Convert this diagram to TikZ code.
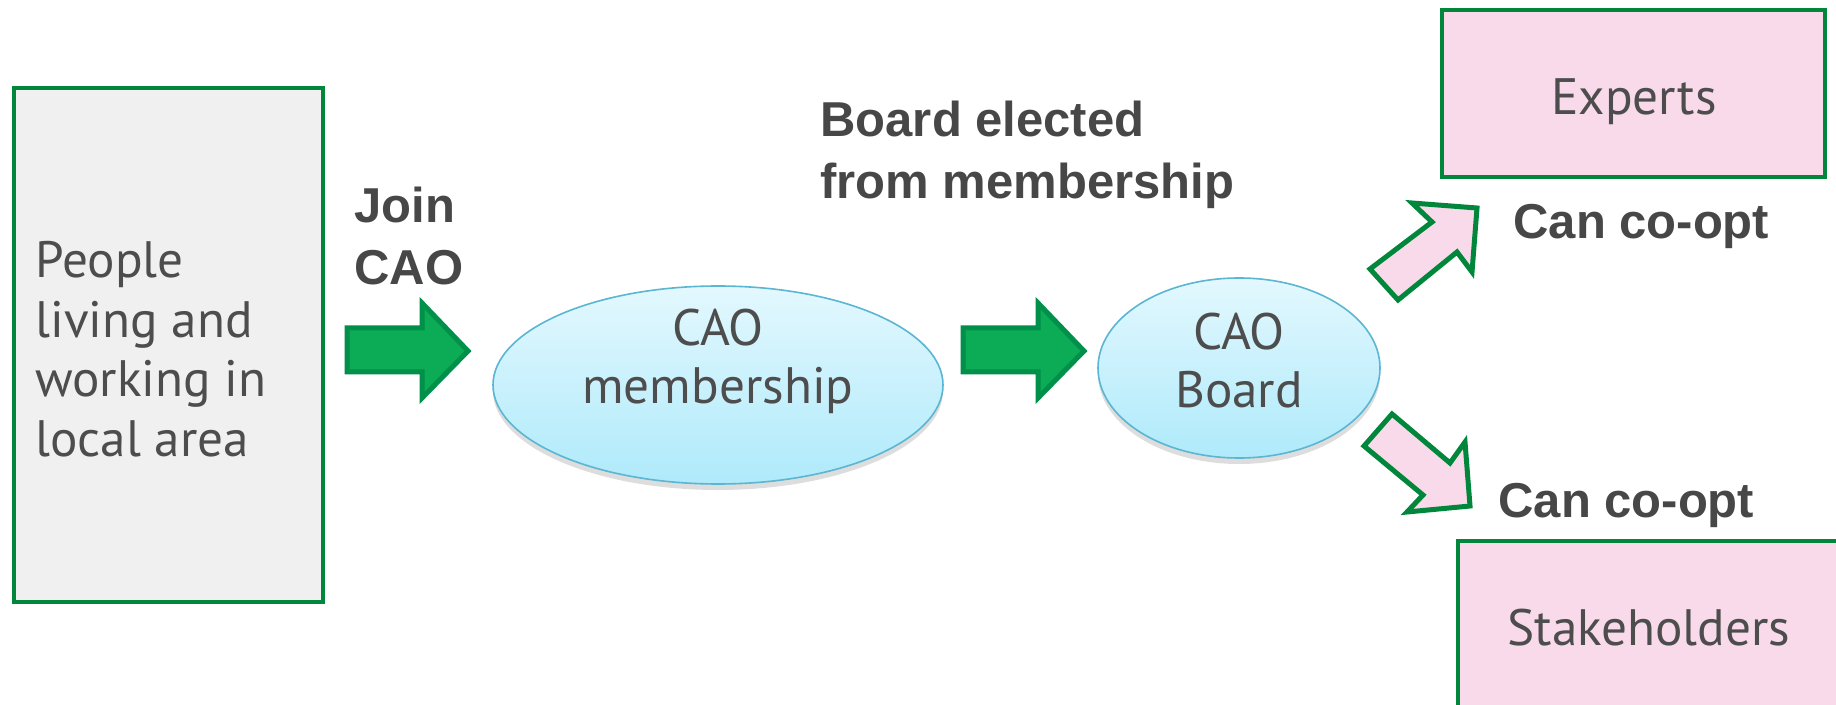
\documentclass[tikz,border=0pt]{standalone}
\usepackage{fontspec}
\setmainfont{PT Sans}
\newfontfamily\arialf{Liberation Sans}
\usetikzlibrary{shapes.geometric}
\definecolor{bordergreen}{HTML}{00873C}
\definecolor{arrowgreen}{HTML}{0BAC55}
\definecolor{arrowedge}{HTML}{00904A}
\definecolor{pinkfill}{HTML}{F8DAEA}
\definecolor{greyfill}{HTML}{F0F0F0}
\definecolor{txtgrey}{HTML}{4D4D4D}
\definecolor{boldgrey}{HTML}{474747}
\definecolor{elltop}{HTML}{E3F8FE}
\definecolor{ellbot}{HTML}{AFEAFB}
\definecolor{elledge}{HTML}{5AB6D2}
\tikzset{
  box/.style={draw=bordergreen, line width=2.4pt},
  regtext/.style={text=txtgrey, inner sep=0pt, font=\fontsize{25.6}{29.75}\selectfont},
  boldtext/.style={text=boldgrey, inner sep=0pt, align=left, font=\arialf\bfseries\fontsize{24.5}{31}\selectfont},
  bubble/.style={ellipse, draw=elledge, line width=0.8pt, top color=elltop, bottom color=ellbot},
  bubbleshadow/.style={fill=black!22, draw=none},
  greenarrow/.style={fill=arrowgreen, draw=arrowedge, line width=2.5pt, line join=miter},
  pinkarrow/.style={fill=pinkfill, draw=bordergreen, line width=2.5pt, line join=miter}
}
\begin{document}
\begin{tikzpicture}[x=0.5pt,y=-0.5pt]
\useasboundingbox (0,0) rectangle (1836,705);
\clip (0,0) rectangle (1836,705);
\fill[white] (0,0) rectangle (1836,705);

% left box
\draw[box, fill=greyfill] (14,88) rectangle (323,602);
\node[regtext, align=left, anchor=west] (people) at (35,349) {People\\living and\\working in\\local area};

% Join CAO
\node[boldtext, anchor=west] (join) at (354,236) {Join\\CAO};
\draw[greenarrow] (347,328) -- (422,328) -- (422,303) -- (468,351) -- (422,398) -- (422,372) -- (347,372) -- cycle;

% membership ellipse
\fill[bubbleshadow, opacity=0.6] (718,391) ellipse [x radius=225, y radius=99];
\node[bubble, minimum width=225pt, minimum height=99pt, inner sep=0pt] (memb) at (718,385) {};
\node[regtext, align=center, font=\fontsize{25.6}{29}\selectfont] (membtxt) at (718,361) {CAO\\membership};

% Board elected
\node[boldtext, anchor=west] (elected) at (820,155) {Board elected\\from membership};

% arrow 2
\draw[greenarrow] (963,328) -- (1038,328) -- (1038,303) -- (1084,351) -- (1038,398) -- (1038,372) -- (963,372) -- cycle;

% board ellipse
\fill[bubbleshadow, opacity=0.6] (1239,374) ellipse [x radius=141, y radius=90];
\node[bubble, minimum width=141pt, minimum height=90pt, inner sep=0pt] (board) at (1239,368) {};
\node[regtext, align=center, font=\fontsize{25.6}{29}\selectfont] (boardtxt) at (1239,361) {CAO\\Board};

% pink arrows
\draw[pinkarrow] (1370,269) -- (1432,222) -- (1412,203) -- (1477,208) -- (1472,272) -- (1457,252) -- (1398,300) -- cycle;
\draw[pinkarrow] (1392,414) -- (1450,463) -- (1465,442) -- (1470,506) -- (1407,512) -- (1423,495) -- (1364,446) -- cycle;

% co-opt labels
\node[boldtext, anchor=west] (coopt1) at (1513,226) {Can co-opt};
\node[boldtext, anchor=west] (coopt2) at (1498,505) {Can co-opt};

% Experts
\draw[box, fill=pinkfill] (1442,10) rectangle (1825,177);
\node[regtext] (experts) at (1634,102) {Experts};

% Stakeholders
\draw[box, fill=pinkfill] (1458,541) rectangle (1860,730);
\node[regtext] (stake) at (1649,628) {Stakeholders};
\end{tikzpicture}
\end{document}
